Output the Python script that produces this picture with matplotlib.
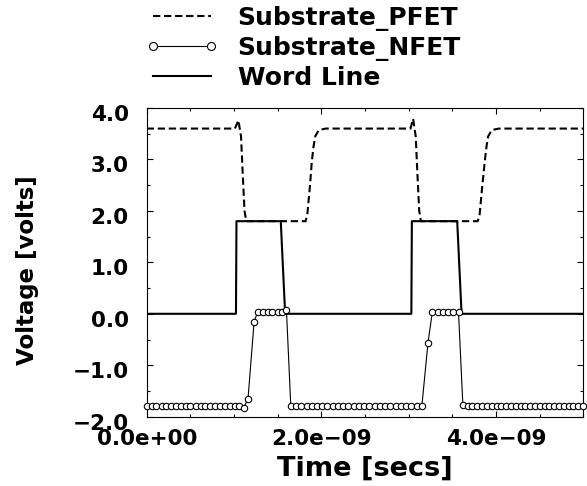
import matplotlib
matplotlib.use("Agg")
import matplotlib.pyplot as plt
import matplotlib.transforms as mtransforms
from matplotlib.ticker import MultipleLocator
import numpy as np

plt.rcParams['font.family'] = ['DejaVu Sans']

# ---- data (time in ns, voltage in volts) ----
word_t = [0.00, 1.022, 1.028, 1.535, 1.585, 3.030, 3.036, 3.555, 3.605, 5.00]
word_v = [0.0, 0.0, 1.8, 1.8, 0.0, 0.0, 1.8, 1.8, 0.0, 0.0]

pfet_t = [0.00, 1.01, 1.05, 1.08, 1.10, 1.12, 1.14, 1.82, 1.84, 1.87, 1.89,
          1.91, 1.93, 1.97, 2.05, 3.02, 3.05, 3.08, 3.10, 3.12, 3.14, 3.79,
          3.81, 3.84, 3.87, 3.89, 3.91, 3.95, 4.03, 5.00]
pfet_v = [3.60, 3.60, 3.76, 3.45, 2.70, 2.00, 1.80, 1.80, 1.95, 2.50, 2.95,
          3.25, 3.45, 3.57, 3.60, 3.60, 3.79, 3.45, 2.70, 2.00, 1.80, 1.80,
          1.90, 2.45, 2.95, 3.25, 3.45, 3.57, 3.60, 3.60]

nfet_t = [0.00, 0.056, 0.11, 0.17, 0.22, 0.28, 0.34, 0.39, 0.45, 0.50, 0.56,
          0.62, 0.67, 0.73, 0.78, 0.84, 0.90, 0.95, 1.01, 1.06, 1.11,
          1.16, 1.23,
          1.27, 1.33, 1.39, 1.44, 1.50, 1.55, 1.60,
          1.65, 1.71, 1.77, 1.83, 1.89, 1.95, 2.01, 2.07, 2.13, 2.19, 2.25,
          2.31, 2.37, 2.43, 2.49, 2.55, 2.61, 2.67, 2.73, 2.79, 2.85, 2.91,
          2.97, 3.03, 3.09, 3.15,
          3.22,
          3.27, 3.33, 3.39, 3.45, 3.51, 3.57,
          3.62, 3.675, 3.73, 3.785, 3.84, 3.895, 3.95, 4.005, 4.06, 4.115,
          4.17, 4.225, 4.28, 4.335, 4.39, 4.445, 4.50, 4.555, 4.61, 4.665,
          4.72, 4.775, 4.83, 4.885, 4.94, 4.995]
nfet_v = [-1.80, -1.80, -1.80, -1.80, -1.80, -1.80, -1.80, -1.80, -1.80, -1.80, -1.80,
          -1.80, -1.80, -1.80, -1.80, -1.80, -1.80, -1.80, -1.80, -1.80, -1.83,
          -1.65, -0.15,
          0.03, 0.03, 0.03, 0.03, 0.03, 0.03, 0.07,
          -1.80, -1.80, -1.80, -1.80, -1.80, -1.80, -1.80, -1.80, -1.80, -1.80, -1.80,
          -1.80, -1.80, -1.80, -1.80, -1.80, -1.80, -1.80, -1.80, -1.80, -1.80, -1.80,
          -1.80, -1.80, -1.80, -1.80,
          -0.57,
          0.03, 0.03, 0.03, 0.03, 0.03, 0.03,
          -1.78, -1.80, -1.80, -1.80, -1.80, -1.80, -1.80, -1.80, -1.80, -1.80,
          -1.80, -1.80, -1.80, -1.80, -1.80, -1.80, -1.80, -1.80, -1.80, -1.80,
          -1.80, -1.80, -1.80, -1.80, -1.80, -1.80]

labels = ["Substrate_PFET", "Substrate_NFET", "Word Line"]
xtick_vals = [0.0, 2.0e-9, 4.0e-9]
xtick_labels = ["0.0e+00", "2.0e\u221209", "4.0e\u221209"]
ytick_vals = [-2.0, -1.0, 0.0, 1.0, 2.0, 3.0, 4.0]
ytick_labels = ["\u22122.0", "\u22121.0", "0.0", "1.0", "2.0", "3.0", "4.0"]

# ---- figure ----
fig = plt.figure(figsize=(5.87, 4.86), dpi=100)
ax = fig.add_axes([0.2499, 0.1426, 0.744, 0.6352])

t_p = np.array(pfet_t) * 1e-9
t_n = np.array(nfet_t) * 1e-9
t_w = np.array(word_t) * 1e-9

lp, = ax.plot(t_p, pfet_v, color='black', lw=1.5, linestyle=(0, (3.5, 1.8)))
ln, = ax.plot(t_n, nfet_v, color='black', lw=0.8, marker='o', markersize=4.6,
              markerfacecolor='white', markeredgecolor='black', markeredgewidth=0.8,
              clip_on=False, zorder=3)
lw_, = ax.plot(t_w, word_v, color='black', lw=1.5, zorder=2)

ax.set_xlim(0, 5e-9)
ax.set_ylim(-2.0, 4.0)

ax.set_xticks(xtick_vals)
ax.set_xticklabels(xtick_labels, fontsize=15.5, fontweight='bold')
ax.xaxis.set_minor_locator(MultipleLocator(0.5e-9))
ax.set_yticks(ytick_vals)
ax.set_yticklabels(ytick_labels, fontsize=15.5, fontweight='bold')
ax.yaxis.set_minor_locator(MultipleLocator(0.5))

ax.tick_params(which='both', direction='in', top=True, right=True, width=0.8, color='black')
ax.tick_params(which='major', length=4)
ax.tick_params(which='minor', length=2.2)
ax.tick_params(axis='x', which='major', pad=8.5)
ax.tick_params(axis='y', which='major', pad=13)

for sp in ax.spines.values():
    sp.set_linewidth(0.8)
    sp.set_color('black')

offset = mtransforms.ScaledTranslation(0, -5 / 100, fig.dpi_scale_trans)
for lab in ax.get_yticklabels():
    lab.set_transform(lab.get_transform() + offset)

ax.set_xlabel("Time [secs]", fontsize=19.5, fontweight='bold')
ax.xaxis.set_label_coords(0.5, -0.126)
ax.set_ylabel("Voltage [volts]", fontsize=16.5, fontweight='bold', va='center')
ax.yaxis.set_label_coords(-0.274, 0.475)

fig.legend([lp, ln, lw_], labels, loc='upper left',
           bbox_to_anchor=(145 / 587, 1 - 6 / 486), frameon=False,
           borderpad=0, borderaxespad=0, handlelength=2.95, handletextpad=0.75,
           labelspacing=0.2, prop=dict(weight='bold', size=18),
           markerscale=1.25, numpoints=2)

fig.savefig("out.png", dpi=100)
